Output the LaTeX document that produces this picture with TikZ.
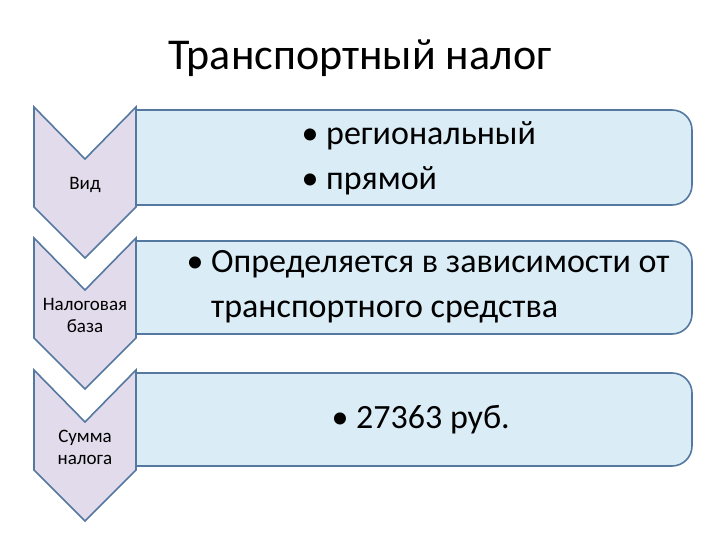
\documentclass[tikz,border=0pt]{standalone}
\usepackage{fontspec}
\setmainfont{Carlito}
\begin{document}
\begin{tikzpicture}[x=1pt,y=-1pt,
  chev/.style={draw={rgb,255:red,84;green,120;blue,160}, line width=1.6pt, line join=miter, fill={rgb,255:red,226;green,219;blue,235}},
  bx/.style={draw={rgb,255:red,84;green,120;blue,160}, line width=1.6pt, fill={rgb,255:red,218;green,236;blue,245}},
  ctext/.style={font=\fontsize{19}{22}\selectfont, align=center},
  btext/.style={font=\fontsize{34}{45}\selectfont, align=left, anchor=west}]
\path[use as bounding box] (0,0) rectangle (720,540);
\node[font=\fontsize{44}{48}\selectfont] (title) at (360,58) {Транспортный налог};
\foreach \t/\b in {107/205, 238/334, 370/466}{
  \pgfmathsetmacro\bt{\t+3}
  \draw[bx] (136,\bt) -- (672,\bt) arc[start angle=-90,end angle=0,radius=20] -- (692,\b-20) arc[start angle=0,end angle=90,radius=20] -- (136,\b) -- cycle;
  \draw[chev] (34,\t) -- (85,\t+52) -- (136,\t) -- (136,\t+100) -- (85,\t+151) -- (34,\t+100) -- cycle;
}
\node[ctext] (c1) at (85,185) {Вид};
\node[ctext] (c2) at (85,315) {Налоговая\\база};
\node[ctext] (c3) at (85,447) {Сумма\\налога};
\node[btext] (b1) at (298,158) {• региональный\\• прямой};
\node[btext] (b2) at (183,287) {• Определяется в зависимости от\\\phantom{• }транспортного средства};
\node[btext] (b3) at (328,420) {• 27363 руб.};
\end{tikzpicture}
\end{document}
